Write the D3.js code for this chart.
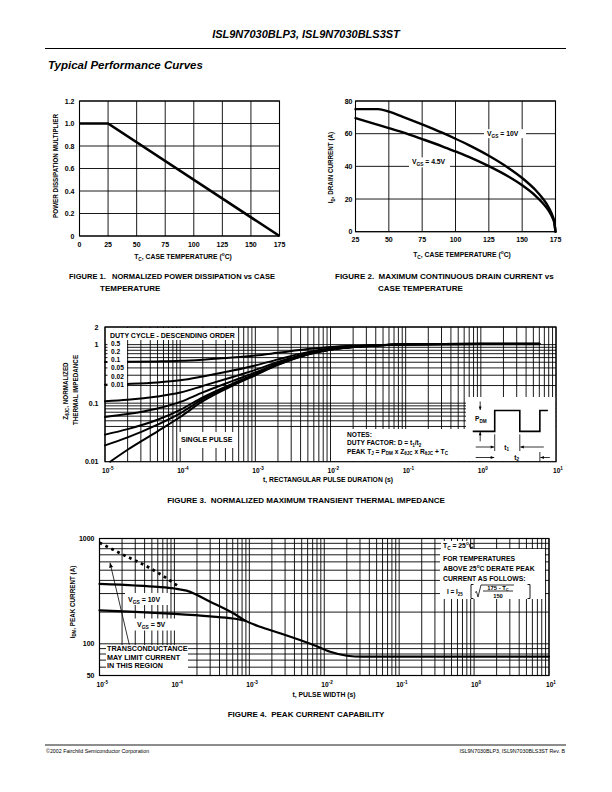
<!DOCTYPE html>
<html>
<head>
<meta charset="utf-8">
<title>ISL9N7030 typical performance curves</title>
<script src="https://cdn.jsdelivr.net/npm/d3@7"></script>
<style>
  html, body { margin: 0; padding: 0; background: #fff; }
  svg { display: block; }
  text { white-space: pre; }
</style>
</head>
<body>
<svg id="page" width="612" height="792"></svg>
<script>
// --- Figure 1: normalized power dissipation vs case temperature
const pdTemp = [0, 25, 175];
const pdMult = [1.0, 1.0, 0.0];
const pdXTicks = [0, 25, 50, 75, 100, 125, 150, 175];
const pdYTicks = [0, 0.2, 0.4, 0.6, 0.8, 1.0, 1.2];
const pdYLabels = ["0", "0.2", "0.4", "0.6", "0.8", "1.0", "1.2"];

// --- Figure 2: max continuous drain current vs case temperature
const idTemp10 = [25, 42, 50, 60, 75, 90, 100, 110, 125, 140, 150, 160, 165, 170, 173, 174, 175];
const idAmps10 = [75, 75, 73.5, 70.5, 65.7, 60.6, 56.9, 53, 46.5, 38.9, 32.9, 25.5, 20.8, 14.7, 9.3, 6.6, 0];
const idTemp45 = [25, 40, 50, 60, 75, 90, 100, 110, 125, 140, 150, 160, 165, 170, 173, 174, 175];
const idAmps45 = [69.5, 65.8, 63.4, 60.9, 56.7, 52.3, 49.1, 45.8, 40.1, 33.6, 28.4, 22, 17.9, 12.7, 8, 5.7, 0];
const idXTicks = [25, 50, 75, 100, 125, 150, 175];
const idYTicks = [0, 20, 40, 60, 80];

// --- Figure 3: normalized transient thermal impedance
const ztTime = [1e-5, 2e-5, 5e-5, 1e-4, 2e-4, 5e-4, 1e-3, 2e-3, 5e-3, 1e-2, 2e-2, 5e-2, 0.1, 1, 6];
const ztD50 = [0.504, 0.508, 0.517, 0.529, 0.554, 0.60, 0.65, 0.725, 0.84, 0.91, 0.955, 0.99, 1.005, 1.015, 1.015];
const ztD20 = [0.207, 0.213, 0.226, 0.246, 0.286, 0.36, 0.44, 0.56, 0.744, 0.856, 0.928, 0.984, 1.008, 1.024, 1.024];
const ztD10 = [0.108, 0.114, 0.130, 0.152, 0.197, 0.28, 0.37, 0.505, 0.712, 0.838, 0.919, 0.982, 1.009, 1.027, 1.027];
const ztD05 = [0.058, 0.065, 0.081, 0.105, 0.153, 0.24, 0.335, 0.478, 0.696, 0.829, 0.915, 0.981, 1.01, 1.029, 1.029];
const ztD02 = [0.029, 0.036, 0.052, 0.077, 0.126, 0.216, 0.314, 0.461, 0.686, 0.824, 0.912, 0.98, 1.01, 1.03, 1.03];
const ztD01 = [0.019, 0.026, 0.043, 0.067, 0.117, 0.208, 0.307, 0.456, 0.683, 0.822, 0.911, 0.98, 1.01, 1.03, 1.03];
const ztSingleTime = [1.17e-5, 2e-5, 5e-5, 1e-4, 2e-4, 5e-4, 1e-3, 2e-3, 5e-3, 1e-2, 2e-2, 5e-2, 0.1, 1, 6];
const ztSingle = [0.01, 0.016, 0.033, 0.058, 0.108, 0.2, 0.3, 0.45, 0.68, 0.82, 0.91, 0.98, 1.01, 1.03, 1.03];
const ztDutyLabels = ["0.5", "0.2", "0.1", "0.05", "0.02", "0.01"];
const ztXExp = [-5, -4, -3, -2, -1, 0, 1];
const ztYTicks = [0.01, 0.1, 1, 2];
const ztYLabels = ["0.01", "0.1", "1", "2"];
// pulse sketch in the notes inset (time, Z)
const waveTime = [0.78, 1.53, 1.53, 3.3, 3.3, 6.1, 6.1, 7.8];
const waveZ = [0.033, 0.033, 0.075, 0.075, 0.033, 0.033, 0.075, 0.075];

// --- Figure 4: peak current capability
const pkGmTime = [1e-5, 2e-5, 4.5e-5, 7.9e-5, 1.1e-4];
const pkGmAmps = [910, 710, 533, 419, 355];
const pk10Time = [1e-5, 3e-5, 6e-5, 1e-4, 1.45e-4, 3e-4, 6.1e-4, 8.8e-4, 1.39e-3, 2.57e-3, 7.2e-3, 1.2e-2, 2e-2, 3.2e-2, 10];
const pk10Amps = [370, 358, 347, 335, 320, 251, 195, 166, 145, 126, 97.4, 84, 77, 75.4, 75.4];
const pk5Time = [1e-5, 3e-5, 1e-4, 3e-4, 6e-4, 8.8e-4];
const pk5Amps = [208, 201, 192, 182, 174, 166];
const pkXExp = [-5, -4, -3, -2, -1, 0, 1];
const pkYTicks = [50, 100, 1000];
const pkYLabels = ["50", "100", "1000"];

const svg = d3.select("#page");
const SANS = '"Liberation Sans", Arial, sans-serif';
const NARROW = '"Liberation Sans Narrow", "Arial Narrow", "Liberation Sans", Arial, sans-serif';

// text with optional sub/superscript parts: [["V"], ["GS", "sub"], [" = 10V"]]
function label(g, x, y, parts, o = {}) {
  const size = o.size || 7;
  const t = g.append("text")
    .attr("x", x).attr("y", y)
    .attr("font-family", o.family || NARROW)
    .attr("font-size", size)
    .attr("font-weight", o.weight || "bold")
    .attr("font-style", o.italic ? "italic" : null)
    .attr("text-anchor", o.anchor || "start")
    .attr("fill", "#000");
  if (o.rotate) t.attr("transform", `rotate(${o.rotate},${x},${y})`);
  if (o.len) t.attr("textLength", o.len).attr("lengthAdjust", "spacingAndGlyphs");
  let shift = 0;
  (typeof parts === "string" ? [[parts]] : parts).forEach(([s, k]) => {
    const want = k === "sub" ? size * 0.3 : k === "sup" ? -size * 0.42 : 0;
    const sp = t.append("tspan").text(s);
    if (want - shift) sp.attr("dy", want - shift);
    if (k) sp.attr("font-size", size * 0.7);
    shift = want;
  });
  return t;
}

function grid(g, x, y, xs, ys, w = 0.9) {
  const [x0, x1] = x.range(), [y0, y1] = y.range();
  g.append("g").selectAll("line").data(xs).join("line")
    .attr("x1", d => x(d)).attr("x2", d => x(d)).attr("y1", y0).attr("y2", y1)
    .attr("stroke", "#000").attr("stroke-width", w);
  g.append("g").selectAll("line").data(ys).join("line")
    .attr("y1", d => y(d)).attr("y2", d => y(d)).attr("x1", x0).attr("x2", x1)
    .attr("stroke", "#000").attr("stroke-width", w);
}

function frame(g, x, y, w = 1.1) {
  const [x0, x1] = x.range(), [y0, y1] = y.range();
  g.append("rect")
    .attr("x", x0).attr("y", y1).attr("width", x1 - x0).attr("height", y0 - y1)
    .attr("fill", "none").attr("stroke", "#000").attr("stroke-width", w);
}

function whiteout(g, x0, x1, y0, y1) {
  g.append("rect").attr("x", x0).attr("y", y0).attr("width", x1 - x0).attr("height", y1 - y0)
    .attr("fill", "#fff");
}

function curve(g, x, y, xs, ys, w = 2.2, dash = null, shape = d3.curveMonotoneX) {
  const line = d3.line().x(d => x(d[0])).y(d => y(d[1])).curve(shape);
  return g.append("path").datum(d3.zip(xs, ys))
    .attr("d", line)
    .attr("fill", "none").attr("stroke", "#000").attr("stroke-width", w)
    .attr("stroke-dasharray", dash).attr("stroke-linecap", dash ? "butt" : "round");
}

function arrow(g, xa, ya, xb, yb, head = 4) {
  // line from a to b, filled head at b
  g.append("line").attr("x1", xa).attr("y1", ya).attr("x2", xb).attr("y2", yb)
    .attr("stroke", "#000").attr("stroke-width", 0.8);
  const ang = Math.atan2(yb - ya, xb - xa);
  const p = [[xb, yb],
    [xb - head * Math.cos(ang) + head * 0.4 * Math.sin(ang), yb - head * Math.sin(ang) - head * 0.4 * Math.cos(ang)],
    [xb - head * Math.cos(ang) - head * 0.4 * Math.sin(ang), yb - head * Math.sin(ang) + head * 0.4 * Math.cos(ang)]];
  g.append("path").attr("d", "M" + p.join("L") + "Z").attr("fill", "#000");
}

function decadeGrid(lo, hi) {
  const out = [];
  for (let e = lo; e < hi; e++) for (let k = 1; k < 10; k++) out.push(k * Math.pow(10, e));
  out.push(Math.pow(10, hi));
  return out;
}

// ---------- page header / footer ----------
label(svg, 306, 38, "ISL9N7030BLP3, ISL9N7030BLS3ST", { family: SANS, size: 11, italic: true, anchor: "middle" });
svg.append("line").attr("x1", 45).attr("x2", 566).attr("y1", 48.5).attr("y2", 48.5)
  .attr("stroke", "#000").attr("stroke-width", 1);
label(svg, 48, 69, "Typical Performance Curves", { family: SANS, size: 11.5, italic: true });

svg.append("line").attr("x1", 45).attr("x2", 566).attr("y1", 745).attr("y2", 745)
  .attr("stroke", "#000").attr("stroke-width", 0.9);
label(svg, 46, 753, "©2002 Fairchild Semiconductor Corporation", { family: SANS, size: 5.3, weight: "normal" });
label(svg, 565, 753, "ISL9N7030BLP3, ISL9N7030BLS3ST Rev. B", { family: SANS, size: 5.3, weight: "normal", anchor: "end" });

// ---------- Figure 1 ----------
const g1 = svg.append("g");
const x1 = d3.scaleLinear().domain([0, 175]).range([79.5, 279.5]);
const y1 = d3.scaleLinear().domain([0, 1.2]).range([236, 101]);
grid(g1, x1, y1, pdXTicks, pdYTicks);
frame(g1, x1, y1);
curve(g1, x1, y1, pdTemp, pdMult, 2.6, null, d3.curveLinear).attr("stroke-linecap", "butt");
pdXTicks.forEach(v => label(g1, x1(v), 246.5, String(v), { anchor: "middle" }));
pdYTicks.forEach((v, i) => label(g1, 74.5, y1(v) + 2.5, pdYLabels[i], { anchor: "end" }));
label(g1, 183, 258.5, [["T"], ["C", "sub"], [", CASE TEMPERATURE ("], ["o", "sup"], ["C)"]], { anchor: "middle", size: 6.8 });
label(g1, 57.5, 166, "POWER DISSIPATION MULTIPLIER", { anchor: "middle", rotate: -90, size: 6.3 });
label(g1, 69, 278.5, "FIGURE 1.   NORMALIZED POWER DISSIPATION vs CASE", { size: 8, len: 206 });
label(g1, 100, 290.5, "TEMPERATURE", { size: 8 });

// ---------- Figure 2 ----------
const g2 = svg.append("g");
const x2 = d3.scaleLinear().domain([25, 175]).range([355.5, 555.5]);
const y2 = d3.scaleLinear().domain([0, 80]).range([231.7, 101]);
grid(g2, x2, y2, idXTicks, idYTicks);
frame(g2, x2, y2);
whiteout(g2, 484, 526, y2(60) - 4.5, y2(60) + 4.5);
whiteout(g2, 409, 450, y2(40) - 9, y2(40) + 1);
curve(g2, x2, y2, idTemp10, idAmps10, 2.4);
curve(g2, x2, y2, idTemp45, idAmps45, 2.4);
label(g2, 487, y2(60) + 2.4, [["V"], ["GS", "sub"], [" = 10V"]], { size: 6.8 });
label(g2, 412, y2(40) - 2.2, [["V"], ["GS", "sub"], [" = 4.5V"]], { size: 6.8 });
idXTicks.forEach(v => label(g2, x2(v), 241.5, String(v), { anchor: "middle" }));
idYTicks.forEach(v => label(g2, 352.5, y2(v) + 2.5, String(v), { anchor: "end" }));
label(g2, 462, 256.5, [["T"], ["C", "sub"], [", CASE TEMPERATURE ("], ["o", "sup"], ["C)"]], { anchor: "middle", size: 6.8 });
label(g2, 333, 167.5, [["I"], ["D", "sub"], [", DRAIN CURRENT (A)"]], { anchor: "middle", rotate: -90, size: 6.3 });
label(g2, 335, 278.5, "FIGURE 2.  MAXIMUM CONTINUOUS DRAIN CURRENT vs", { size: 8 });
label(g2, 378, 290.5, "CASE TEMPERATURE", { size: 8 });

// ---------- Figure 3 ----------
const g3 = svg.append("g");
const x3 = d3.scaleLog().domain([1e-5, 10]).range([105, 556]);
const y3 = d3.scaleLog().domain([0.01, 2]).range([461.7, 327]);
const z3Grid = [0.04, 0.05, 0.06, 0.07, 0.08, 0.09, 0.1, 0.2, 0.3, 0.4, 0.5, 0.6, 0.7, 0.8, 0.9, 1, 2];
grid(g3, x3, y3, decadeGrid(-5, 1), z3Grid);
[ztD50, ztD20, ztD10, ztD05, ztD02, ztD01].forEach(z => curve(g3, x3, y3, ztTime, z, 2));
curve(g3, x3, y3, ztSingleTime, ztSingle, 2);

// annotation boxes
whiteout(g3, 106, 237, 328, 340);
whiteout(g3, 107.5, 127, 340, 388.5);
whiteout(g3, 178, 234, 432, 448);
whiteout(g3, 345, 466, 429, 461);
whiteout(g3, 466, 555.5, 397, 461);
label(g3, 110, 337.5, "DUTY CYCLE - DESCENDING ORDER", { size: 7 });
const dutyLabelZ = [1.05, 0.76, 0.56, 0.4, 0.285, 0.206];
ztDutyLabels.forEach((s, i) => label(g3, 111, y3(dutyLabelZ[i]) + 2.3, s, { size: 6.6 }));
label(g3, 181, 442, "SINGLE PULSE", { size: 7 });
label(g3, 347, 436.5, "NOTES:", { size: 6.6 });
label(g3, 347, 445, [["DUTY FACTOR: D = t"], ["1", "sub"], ["/t"], ["2", "sub"]], { size: 6.6 });
label(g3, 347, 453.5, [["PEAK T"], ["J", "sub"], [" = P"], ["DM", "sub"], [" x Z"], ["\u03b8JC", "sub"], [" x R"], ["\u03b8JC", "sub"], [" + T"], ["C", "sub"]], { size: 6.6 });

// pulse sketch
g3.append("path").datum(d3.zip(waveTime, waveZ))
  .attr("d", d3.line().x(d => x3(d[0])).y(d => y3(d[1])))
  .attr("fill", "none").attr("stroke", "#000").attr("stroke-width", 1.6);
const hi = y3(0.075), lo = y3(0.033);
const ax = x3(0.98);
arrow(g3, ax, hi - 9, ax, hi - 0.5, 3.5);
arrow(g3, ax, lo + 10, ax, lo + 0.5, 3.5);
label(g3, 475, 421, [["P"], ["DM", "sub"]], { size: 6.6 });
const r1 = x3(1.53), f1 = x3(3.3), r2 = x3(6.1);
[r1, f1].forEach(xx => g3.append("line").attr("x1", xx).attr("x2", xx).attr("y1", lo + 3).attr("y2", 451)
  .attr("stroke", "#000").attr("stroke-width", 0.8));
g3.append("line").attr("x1", r2).attr("x2", r2).attr("y1", 452).attr("y2", 461)
  .attr("stroke", "#000").attr("stroke-width", 0.8);
arrow(g3, r1 - 19, 447, r1 - 0.5, 447, 3.5);
arrow(g3, f1 + 24, 447, f1 + 0.5, 447, 3.5);
arrow(g3, r1 - 19, 457.5, r1 - 0.5, 457.5, 3.5);
arrow(g3, r2 + 10, 457.5, r2 + 0.5, 457.5, 3.5);
label(g3, (r1 + f1) / 2 - 3, 449.5, [["t"], ["1", "sub"]], { size: 6.6 });
label(g3, (r1 + r2) / 2 - 3, 459.5, [["t"], ["2", "sub"]], { size: 6.6 });
frame(g3, x3, y3, 1.2);

ztXExp.forEach(e => label(g3, x3(Math.pow(10, e)) - 3, 472.5, [["10"], [String(e), "sup"]], { size: 6.6 }));
ztYTicks.forEach((v, i) => label(g3, 98.5, y3(v) + 2.5, ztYLabels[i], { anchor: "end" }));
label(g3, 328, 482, "t, RECTANGULAR PULSE DURATION (s)", { anchor: "middle", size: 6.8 });
label(g3, 67.5, 391, [["Z"], ["\u03b8JC", "sub"], [", NORMALIZED"]], { anchor: "middle", rotate: -90, size: 6.3 });
label(g3, 77.5, 390, "THERMAL IMPEDANCE", { anchor: "middle", rotate: -90, size: 6.3 });
label(g3, 306, 503, "FIGURE 3.  NORMALIZED MAXIMUM TRANSIENT THERMAL IMPEDANCE", { anchor: "middle", size: 8 });

// ---------- Figure 4 ----------
const g4 = svg.append("g");
const x4 = d3.scaleLog().domain([1e-5, 10]).range([99.5, 549]);
const y4 = d3.scaleLog().domain([50, 1000]).range([675.5, 538.5]);
const i4Grid = [60, 70, 80, 90, 100, 200, 300, 400, 500, 600, 700, 800, 900, 1000];
grid(g4, x4, y4, decadeGrid(-5, 1), i4Grid);

// annotation boxes behind the curves
whiteout(g4, 106, 188, y4(97.5), y4(50));
whiteout(g4, 125, 170, 593, 605);
whiteout(g4, 134, 178, 618.5, 630.5);
whiteout(g4, 441, 470, 541, 549);
whiteout(g4, 440, 545, 549, 599);

curve(g4, x4, y4, pkGmTime, pkGmAmps, 2.8, "2.8,3.8");
curve(g4, x4, y4, pk5Time, pk5Amps, 2.2);
curve(g4, x4, y4, pk10Time, pk10Amps, 2.2);

label(g4, 128, 601.5, [["V"], ["GS", "sub"], [" = 10V"]], { size: 7 });
label(g4, 137, 626.5, [["V"], ["GS", "sub"], [" = 5V"]], { size: 7 });
["TRANSCONDUCTANCE", "MAY LIMIT CURRENT", "IN THIS REGION"].forEach((s, i) =>
  label(g4, 107, 651 + i * 8.6, s, { size: 7.2 }));
arrow(g4, x4(2.5e-5), y4(98), x4(1.38e-5), y4(590), 5);

// derating note
const nx = 443;
label(g4, nx, 548, [["T"], ["C", "sub"], [" = 25"], ["o", "sup"], ["C"]], { size: 6.8 });
label(g4, nx, 560.5, "FOR TEMPERATURES", { size: 6.8 });
label(g4, nx, 570.5, [["ABOVE 25"], ["o", "sup"], ["C DERATE PEAK"]], { size: 6.8 });
label(g4, nx, 580.5, "CURRENT AS FOLLOWS:", { size: 6.8 });
label(g4, nx + 4, 594, [["I = I"], ["25", "sub"]], { size: 6.4 });
const bx = 471, by0 = 584.5, by1 = 598.5;
g4.append("path").attr("d", `M${bx + 2.5},${by0}H${bx}V${by1}H${bx + 2.5}M${bx + 56.5},${by0}H${bx + 59}V${by1}H${bx + 56.5}`)
  .attr("fill", "none").attr("stroke", "#000").attr("stroke-width", 0.9);
g4.append("path").attr("d", `M${bx + 4},${by0 + 8}L${bx + 5.5},${by0 + 7}L${bx + 7},${by1 - 1.5}L${bx + 10},${by0 + 0.5}H${bx + 43}`)
  .attr("fill", "none").attr("stroke", "#000").attr("stroke-width", 0.8);
g4.append("line").attr("x1", bx + 12).attr("x2", bx + 42).attr("y1", 591).attr("y2", 591)
  .attr("stroke", "#000").attr("stroke-width", 0.8);
label(g4, bx + 27, 589.5, [["175 - T"], ["C", "sub"]], { size: 5.8, anchor: "middle" });
label(g4, bx + 27, 597.5, "150", { size: 5.8, anchor: "middle" });
frame(g4, x4, y4, 1.2);

pkXExp.forEach(e => label(g4, x4(Math.pow(10, e)) - 3, 686.5, [["10"], [String(e), "sup"]], { size: 6.6 }));
pkYTicks.forEach((v, i) => label(g4, 94.5, y4(v) + 2.5, pkYLabels[i], { anchor: "end" }));
label(g4, 324, 697, "t, PULSE WIDTH (s)", { anchor: "middle", size: 6.8 });
label(g4, 74.5, 602, [["I"], ["DM", "sub"], [", PEAK CURRENT (A)"]], { anchor: "middle", rotate: -90, size: 6.3 });
label(g4, 306, 717, "FIGURE 4.  PEAK CURRENT CAPABILITY", { anchor: "middle", size: 8 });
</script>
</body>
</html>
